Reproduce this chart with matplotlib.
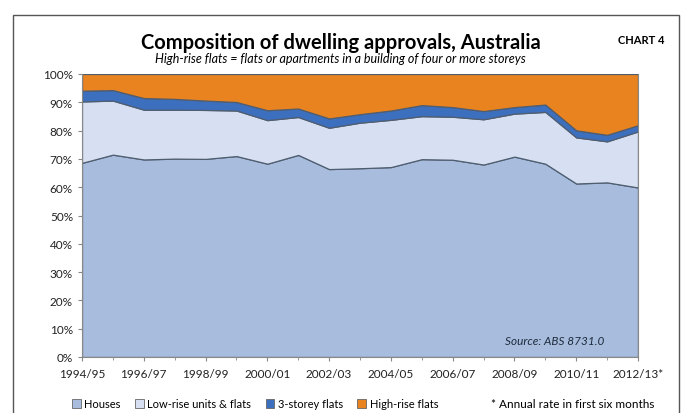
import matplotlib.pyplot as plt
from matplotlib.patches import Patch, Rectangle

plt.rcParams['font.family'] = ['Lato', 'DejaVu Sans']

years = ['1994/95', '1995/96', '1996/97', '1997/98', '1998/99', '1999/00',
         '2000/01', '2001/02', '2002/03', '2003/04', '2004/05', '2005/06',
         '2006/07', '2007/08', '2008/09', '2009/10', '2010/11', '2011/12',
         '2012/13*']
# shares of approvals, per cent
houses = [68.6, 71.5, 69.8, 70.1, 70.0, 71.0, 68.3, 71.4, 66.4, 66.7,
          67.1, 69.9, 69.7, 68.0, 70.8, 68.3, 61.3, 61.7, 59.9]
low_rise = [21.7, 19.1, 17.6, 17.3, 17.3, 16.1, 15.4, 13.4, 14.6, 16.1,
            16.7, 15.2, 15.2, 16.0, 15.2, 18.3, 16.3, 14.5, 19.8]
three_storey = [3.8, 3.7, 4.1, 3.8, 3.3, 3.0, 3.5, 3.0, 3.3, 3.0,
                3.3, 3.9, 3.4, 2.9, 2.3, 2.6, 2.5, 2.3, 2.2]
high_rise = [5.9, 5.7, 8.5, 8.8, 9.4, 9.9, 12.8, 12.2, 15.7, 14.2,
             12.9, 11.0, 11.7, 13.1, 11.7, 10.8, 19.9, 21.5, 18.1]

labels = ['Houses', 'Low-rise units & flats', '3-storey flats', 'High-rise flats']
colours = ['#A8BDDD', '#D6E0F2', '#3D6FBF', '#E8831F']

fig = plt.figure(figsize=(6.81, 4.14), dpi=100)
ax = fig.add_axes([82/681, 1-358/414, (638-82)/681, (358-75)/414])

x = list(range(len(years)))
ax.stackplot(x, houses, low_rise, three_storey, high_rise, colors=colours,
             edgecolor='#4F5D70', linewidth=0.9)

ax.set_xlim(0, len(years)-1)
ax.set_ylim(0, 100)
ax.set_yticks(range(0, 101, 10))
ax.set_yticklabels([f'{v}%' for v in range(0, 101, 10)])
ax.set_xticks(x[::2])
ax.set_xticklabels(years[::2])
ax.set_xticks(x, minor=True)
ax.tick_params(axis='both', labelsize=8.5, colors='#222222', length=3,
               color='#888888', width=0.8)
ax.tick_params(axis='x', which='minor', length=2, color='#888888')
ax.tick_params(axis='x', pad=5)
for s in ax.spines.values():
    s.set_color('#888888')
    s.set_linewidth(0.8)
ax.spines['top'].set_visible(False)

ax.text(0.94, 0.06, 'Source: ABS 8731.0', transform=ax.transAxes, ha='right',
        va='center', fontsize=8.5, style='italic', color='#1F2B3D')

fig.text(0.5, 1-43/414, 'Composition of dwelling approvals, Australia',
         ha='center', va='center', fontsize=14.5, fontweight='bold')
fig.text(0.5, 1-59/414,
         'High-rise flats = flats or apartments in a building of four or more storeys',
         ha='center', va='center', fontsize=9, style='italic')
fig.text(665/681, 1-40/414, 'CHART 4', ha='right', va='center',
         fontsize=8, fontweight='bold')

handles = [Patch(facecolor=c, edgecolor='#666666', linewidth=0.6) for c in colours]
fig.legend(handles, labels, loc='center left', bbox_to_anchor=(62/681, 1-405/414),
           ncol=4, frameon=False, fontsize=8, handlelength=0.8, handleheight=0.8,
           handletextpad=0.3, columnspacing=1.3)
fig.text(654/681, 1-405/414, '* Annual rate in first six months', ha='right',
         va='center', fontsize=8.5)

fig.patches.append(Rectangle((13/681, -0.1), (679-13)/681, 1.1-16/414,
                             transform=fig.transFigure, fill=False,
                             edgecolor='#555555', linewidth=1))

fig.savefig('out.png', dpi=100)
